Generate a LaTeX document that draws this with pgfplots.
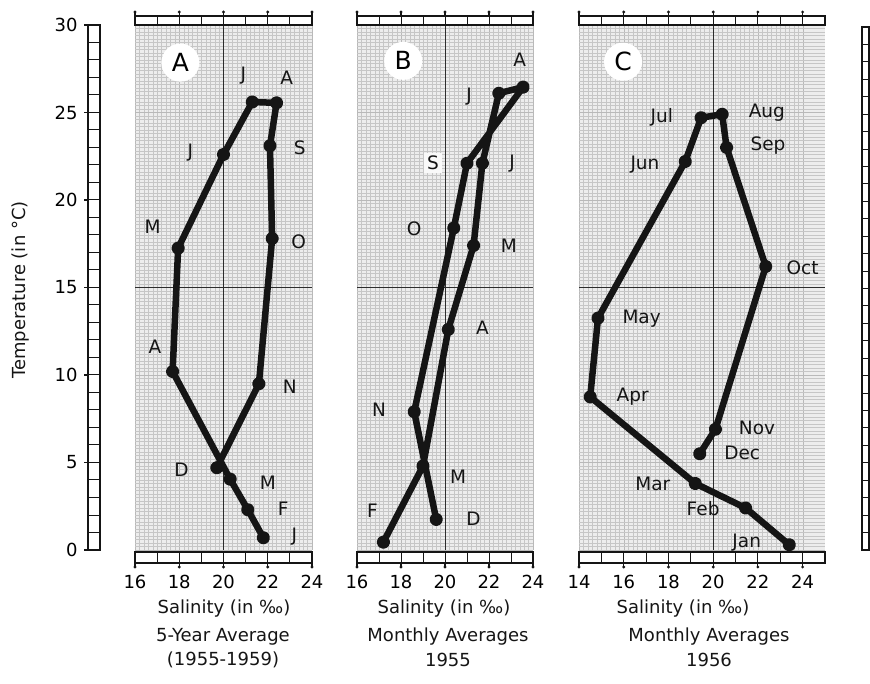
\documentclass[border=0pt]{standalone}
\usepackage{pgfplots}
\pgfplotsset{compat=1.18}
\usepackage{fontspec}
\setmainfont{DejaVu Sans}
\newcommand\lab{\fontsize{18}{21}\selectfont}
\newcommand\mlab{\fontsize{18.5}{21}\selectfont}
\newcommand\biglab{\fontsize{25}{28}\selectfont}
\definecolor{ink}{HTML}{151515}
\tikzset{refline/.style={gray!35!black, line width=0.8pt}}
\pgfplotsset{
  panel/.style={
    at={(#1,133pt)}, anchor=south west, scale only axis,
    height=525pt, ymin=0, ymax=30, clip=false,
    axis line style={draw=none},
    axis background/.style={fill=gray!14},
    ytick={0,5,...,30}, yticklabel style={text opacity=0, opacity=0},
    minor y tick num=24,
    xmajorgrids, xminorgrids, ymajorgrids, yminorgrids,
    major grid style={gray!55, line width=0.25pt},
    minor grid style={gray!45, line width=0.2pt},
    major tick length=0pt, minor tick length=0pt,
    xticklabel style={font=\lab, anchor=center, yshift=-32pt},
    /pgf/number format/assume math mode=true,
  },
  series/.style={ink, line width=6.5pt, line join=round, line cap=round,
    mark=*, mark size=3.4pt, mark options={ink, fill=ink}},
}
\begin{document}
\begin{tikzpicture}
\useasboundingbox (0,0) rectangle (870pt,683pt);

% left temperature ruler
\begin{axis}[at={(88pt,133pt)}, anchor=south west, scale only axis,
  width=12pt, height=525pt, xmin=0, xmax=1, ymin=0, ymax=30,
  xtick=\empty, ytick={0,5,...,30}, minor y tick num=4,
  ymajorgrids, yminorgrids, grid style={ink, line width=1pt},
  axis line style={ink, line width=1.4pt},
  tick align=outside, ytick pos=left,
  major tick length=4pt, minor tick length=0pt,
  tick style={ink, line width=1.2pt},
  yticklabel style={font=\lab, xshift=-3pt},
  /pgf/number format/assume math mode=true]
\end{axis}

% right ruler (cut by the edge)
\begin{axis}[at={(862pt,133pt)}, anchor=south west, scale only axis,
  width=7pt, height=523pt, xmin=0, xmax=1, ymin=0, ymax=30,
  xtick=\empty, ytick={0,5,...,30}, yticklabel style={text opacity=0, opacity=0},
  minor y tick num=4,
  ymajorgrids, yminorgrids, grid style={ink, line width=1pt},
  axis line style={ink, line width=1.4pt},
  major tick length=0pt, minor tick length=0pt]
\end{axis}

% Panel A
\begin{axis}[panel=135pt, width=177pt, xmin=16, xmax=24,
  xtick={16,18,...,24}, minor x tick num=9]
\draw[refline] (axis cs:20,0) -- (axis cs:20,30);
\draw[refline] (axis cs:16,15) -- (axis cs:24,15);
\addplot[series] coordinates {
(21.8,0.7) (21.1,2.3) (20.3,4.05) (17.7,10.2) (17.95,17.25) (20.0,22.6)
(21.3,25.6) (22.4,25.55) (22.1,23.1) (22.2,17.8) (21.6,9.5) (19.7,4.7)};
\node[circle, fill=white, minimum size=38pt, inner sep=0pt, font=\biglab] at (axis cs:18.05,27.85) {A};
\begin{scope}[every node/.style={font=\mlab, text=ink}]
\node at (axis cs:20.9,27.1) {J};
\node at (axis cs:22.86,27.0) {A};
\node at (axis cs:18.5,22.7) {J};
\node at (axis cs:23.45,23.0) {S};
\node at (axis cs:16.8,18.45) {M};
\node at (axis cs:23.4,17.6) {O};
\node at (axis cs:16.9,11.6) {A};
\node at (axis cs:23.0,9.35) {N};
\node at (axis cs:18.1,4.6) {D};
\node at (axis cs:22.0,3.85) {M};
\node at (axis cs:22.7,2.35) {F};
\node at (axis cs:23.2,0.75) {J};
\end{scope}
\end{axis}

% Panel B
\begin{axis}[panel=357pt, width=176pt, xmin=16, xmax=24,
  xtick={16,18,...,24}, minor x tick num=9]
\draw[refline] (axis cs:20,0) -- (axis cs:20,30);
\draw[refline] (axis cs:16,15) -- (axis cs:24,15);
\addplot[series] coordinates {
(17.2,0.45) (19.0,4.8) (20.15,12.6) (21.3,17.4) (21.7,22.1) (22.45,26.1)
(23.55,26.45) (21.0,22.1) (20.4,18.4) (18.6,7.9) (19.6,1.75)};
\node[circle, fill=white, minimum size=38pt, inner sep=0pt, font=\biglab] at (axis cs:18.1,27.95) {B};
\begin{scope}[every node/.style={font=\mlab, text=ink}]
\node at (axis cs:23.4,28.0) {A};
\node at (axis cs:21.1,25.9) {J};
\node[fill=gray!5, inner sep=3pt] at (axis cs:19.45,22.1) {S};
\node at (axis cs:23.05,22.1) {J};
\node at (axis cs:18.6,18.35) {O};
\node at (axis cs:22.9,17.4) {M};
\node at (axis cs:21.7,12.7) {A};
\node at (axis cs:17.0,8.0) {N};
\node at (axis cs:20.6,4.2) {M};
\node at (axis cs:16.7,2.25) {F};
\node at (axis cs:21.3,1.8) {D};
\end{scope}
\end{axis}

% Panel C
\begin{axis}[panel=579pt, width=246pt, xmin=14, xmax=25,
  xtick={14,16,...,24}, minor x tick num=9]
\draw[refline] (axis cs:20,0) -- (axis cs:20,30);
\draw[refline] (axis cs:14,15) -- (axis cs:25,15);
\addplot[series] coordinates {
(23.4,0.3) (21.45,2.4) (19.2,3.8) (14.5,8.75) (14.85,13.25) (18.75,22.2)
(19.46,24.7) (20.4,24.9) (20.6,23.0) (22.35,16.2) (20.1,6.9) (19.4,5.5)};
\node[circle, fill=white, minimum size=38pt, inner sep=0pt, font=\biglab] at (axis cs:15.97,27.9) {C};
\begin{scope}[every node/.style={font=\mlab, text=ink}]
\node at (axis cs:17.7,24.7) {Jul};
\node at (axis cs:22.4,25.0) {Aug};
\node at (axis cs:22.45,23.1) {Sep};
\node at (axis cs:16.95,22.05) {Jun};
\node at (axis cs:24.0,16.1) {Oct};
\node at (axis cs:16.8,13.2) {May};
\node at (axis cs:16.4,8.75) {Apr};
\node at (axis cs:21.96,7.0) {Nov};
\node at (axis cs:21.3,5.55) {Dec};
\node at (axis cs:17.3,3.8) {Mar};
\node at (axis cs:19.55,2.35) {Feb};
\node at (axis cs:21.5,0.4) {Jan};
\end{scope}
\end{axis}

% horizontal rulers above and below each panel
\begin{scope}[x=1pt, y=1pt]
\foreach \L/\U/\N in {135/22.125/8, 357/22/8, 579/22.36/11} {
  \draw[ink, line width=1.3pt, fill=white] (\L,658) rectangle ({\L+\U*\N},667);
  \draw[ink, line width=1.3pt, fill=white] (\L,120) rectangle ({\L+\U*\N},131);
  \foreach \i in {1,...,\N} {
    \draw[ink, line width=1pt] ({\L+\U*\i},658) -- ({\L+\U*\i},667);
    \draw[ink, line width=1pt] ({\L+\U*\i},120) -- ({\L+\U*\i},131);
  }
  \foreach \i in {0,2,...,\N} {
    \draw[ink, line width=1.2pt] ({\L+\U*\i},667) -- ({\L+\U*\i},671);
    \fill[ink] ({\L+\U*\i},671) circle (1.6);
    \draw[ink, line width=1.2pt] ({\L+\U*\i},120) -- ({\L+\U*\i},116);
    \fill[ink] ({\L+\U*\i},116) circle (1.6);
  }
}
% axis titles
\node[rotate=90, font=\lab, text=ink] at (21,393) {Temperature (in °C)};
\node[font=\lab, text=ink] at (224,74) {Salinity (in ‰)};
\node[font=\lab, text=ink] at (444,74) {Salinity (in ‰)};
\node[font=\lab, text=ink] at (683,74) {Salinity (in ‰)};
\node[font=\lab, text=ink] at (223,46) {5-Year Average};
\node[font=\lab, text=ink] at (223,23) {(1955-1959)};
\node[font=\lab, text=ink] at (448,46) {Monthly Averages};
\node[font=\lab, text=ink] at (448,23) {1955};
\node[font=\lab, text=ink] at (709,46) {Monthly Averages};
\node[font=\lab, text=ink] at (709,23) {1956};
\end{scope}
\end{tikzpicture}
\end{document}
